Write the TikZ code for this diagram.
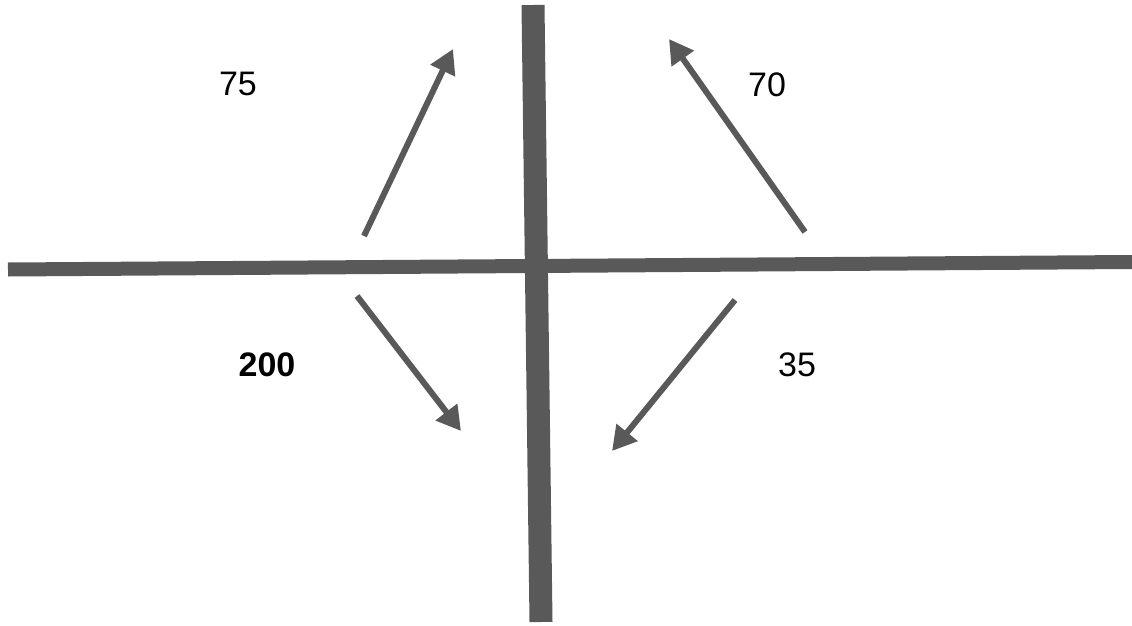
\documentclass[tikz,border=0pt]{standalone}
\usepackage{fontspec}
\setmainfont{Liberation Sans}
\usetikzlibrary{arrows.meta}
\definecolor{bar}{HTML}{595959}
\begin{document}
\begin{tikzpicture}[x=1pt,y=-1pt,
  axis/.style={draw=bar,line width=#1},
  arr/.style={draw=bar,line width=6pt,-{Triangle[length=24pt,width=26pt]}},
  lbl/.style={font=\fontsize{34}{40}\selectfont,text=black}]
\useasboundingbox (0,0) rectangle (1132,626);
\coordinate (hl) at (8,269.5);
\coordinate (hr) at (1132,262);
\coordinate (vt) at (533,5);
\coordinate (vb) at (541,622);
\draw[axis=14pt] (hl) -- (hr);
\draw[axis=23pt] (vt) -- (vb);
\coordinate (a1s) at (364,236); \coordinate (a1e) at (453,49);
\coordinate (a2s) at (805,232); \coordinate (a2e) at (669,39);
\coordinate (a3s) at (357,296); \coordinate (a3e) at (461,431);
\coordinate (a4s) at (735,300); \coordinate (a4e) at (612,451);
\draw[arr] (a1s) -- (a1e);
\draw[arr] (a2s) -- (a2e);
\draw[arr] (a3s) -- (a3e);
\draw[arr] (a4s) -- (a4e);
\node[lbl] (l75) at (238,84) {75};
\node[lbl] (l70) at (767,85) {70};
\node[lbl,font=\fontsize{34}{40}\selectfont\bfseries] (l200) at (267,365) {200};
\node[lbl] (l35) at (797,365) {35};
\end{tikzpicture}
\end{document}
